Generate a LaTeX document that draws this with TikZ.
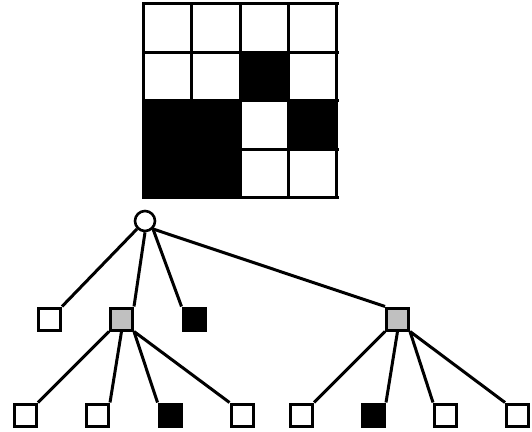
\documentclass[tikz,border=0pt]{standalone}
\usetikzlibrary{positioning}
\definecolor{ink}{HTML}{000000}
\definecolor{mixed}{HTML}{C0C0C0}
\tikzset{
  leaf/.style={draw=ink,line width=3pt,minimum size=22pt,inner sep=0pt,fill=white},
  fullleaf/.style={leaf,fill=ink},
  mixedleaf/.style={leaf,fill=mixed},
  rootnode/.style={circle,draw=ink,line width=2.6pt,minimum size=20pt,inner sep=0pt,fill=white},
  edge/.style={draw=ink,line width=3pt},
  cellgrid/.style={draw=ink,line width=3pt,line cap=rect},
}

\begin{document}
\begin{tikzpicture}[x=1pt,y=1pt]
\useasboundingbox (0,0) rectangle (532,431);

% image: 4x4 raster
\fill[ink] (240,379) rectangle (288.5,330.5);
\fill[ink] (143,233) rectangle (240,330.5);
\fill[ink] (288.5,281.75) rectangle (337,330.5);
\draw[cellgrid,step=48.5,shift={(143,233)}] (0,0) grid (194,194.5);

% quadtree
\node[rootnode] (root) at (145,210) {};

\node[leaf] (nw) at (49.5,112) {};
\node[mixedleaf] (ne) at (121.5,112) {};
\node[fullleaf] (sw) at (194,112) {};
\node[mixedleaf] (se) at (397.5,112) {};

\node[leaf] (ne1) at (25.5,16) {};
\node[leaf] (ne2) at (97.5,16) {};
\node[fullleaf] (ne3) at (170,16) {};
\node[leaf] (ne4) at (242,16) {};

\node[leaf] (se1) at (301.5,16) {};
\node[fullleaf] (se2) at (373.5,16) {};
\node[leaf] (se3) at (445.5,16) {};
\node[leaf] (se4) at (517.5,16) {};

\draw[edge] (root.south west) -- (nw.north east);
\draw[edge] (root.south) -- (ne.north east);
\draw[edge] (root.south east) -- (sw.north west);
\draw[edge] (root.south east) -- (se.north west);

\draw[edge] (ne.south west) -- (ne1.north east);
\draw[edge] (ne.south) -- (ne2.north east);
\draw[edge] (ne.south east) -- (ne3.north west);
\draw[edge] (ne.south east) -- (ne4.north west);

\draw[edge] (se.south west) -- (se1.north east);
\draw[edge] (se.south) -- (se2.north east);
\draw[edge] (se.south east) -- (se3.north west);
\draw[edge] (se.south east) -- (se4.north west);

\end{tikzpicture}
\end{document}
